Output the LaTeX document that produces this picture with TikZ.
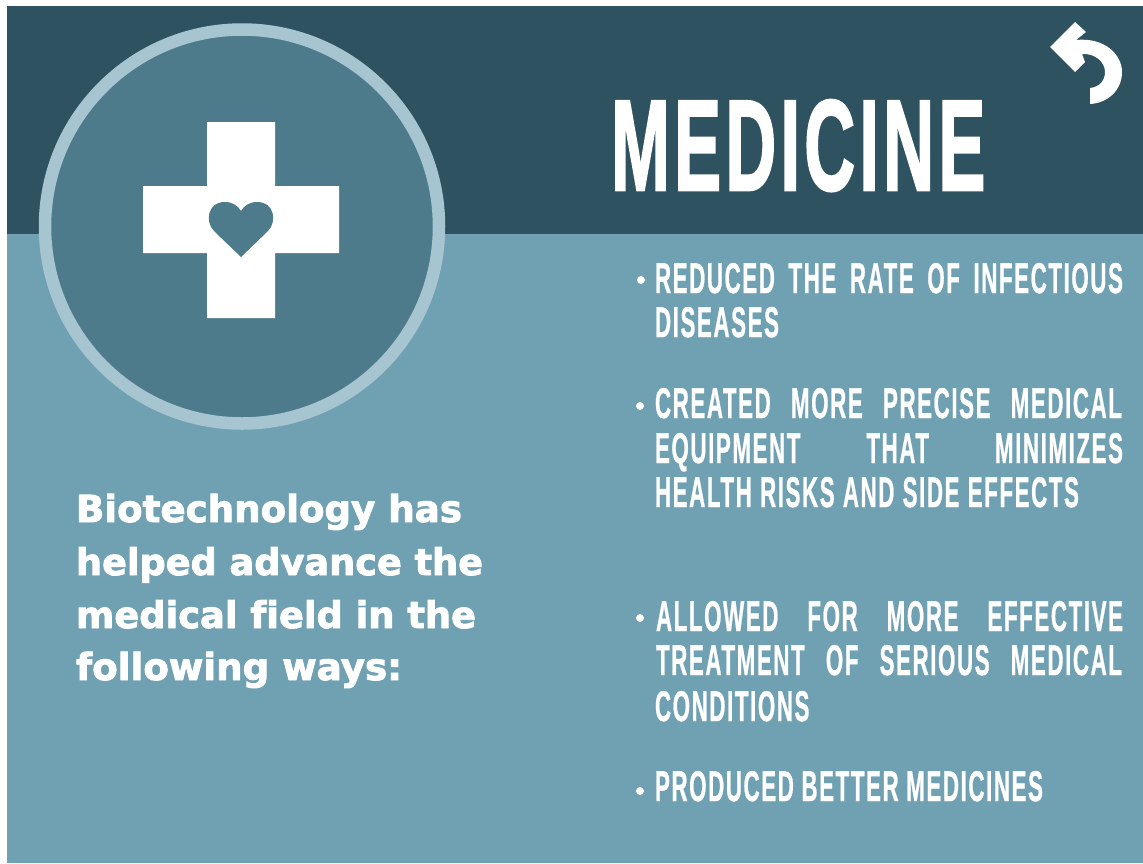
\documentclass[tikz,border=0pt]{standalone}
\usepackage{fontspec}
\usepackage{graphicx}
\setmainfont{Liberation Sans}
\newfontfamily\capsfont[BoldFeatures={FakeBold=1},LetterSpace=7]{Liberation Sans}
\newfontfamily\titlefont[BoldFeatures={FakeBold=2},LetterSpace=6]{Liberation Sans}
\newfontfamily\wideafont[BoldFeatures={FakeBold=2.4},Ligatures=CommonOff]{DejaVu Sans}
\definecolor{headerc}{HTML}{2F5260}
\definecolor{bodyc}{HTML}{70A1B2}
\definecolor{ringc}{HTML}{A6C5D0}
\definecolor{discc}{HTML}{4E7B8C}
\newcommand{\bodyline}[2]{\scalebox{.52}[1]{\hbox to \dimexpr #1pt*100/52\relax{\fontsize{43}{43}\capsfont\bfseries #2}}}
\newcommand{\introline}[2]{\resizebox{#1pt}{!}{\fontsize{30}{30}\wideafont\bfseries #2}}
\tikzset{
  bodytext/.style={text=white,inner sep=0pt,outer sep=0pt,anchor=base west},
  dotmark/.style={circle,fill=white,inner sep=0pt,minimum size=8pt},
}
\begin{document}
\begin{tikzpicture}[x=1pt,y=-1pt]
\useasboundingbox (0,0) rectangle (1143,863);
\fill[white] (0,0) rectangle (1143,863);
\fill[bodyc] (7,233) rectangle (1143,863);
\fill[headerc] (7,6) rectangle (1143,234);
\node[circle,draw=ringc,fill=discc,line width=12.5pt,minimum size=394pt,inner sep=0pt] (disc) at (242,226.5) {};
\fill[white] (207,122) -- (275,122) -- (275,186) -- (339,186) -- (339,253) -- (275,253) -- (275,318) -- (207,318) -- (207,253) -- (143,253) -- (143,186) -- (207,186) -- cycle;
\fill[discc] (241,257) -- (214,231) .. controls (205,222) and (207,202) .. (225,202) .. controls (233,202) and (238,206) .. (241,211) .. controls (244,206) and (249,202) .. (257,202) .. controls (275,202) and (277,222) .. (268,231) -- cycle;
\fill[white] (1050,47) -- (1075,22) -- (1086,32) -- (1076,40) .. controls (1105,37) and (1122,55) .. (1122,72) .. controls (1122,90) and (1108,103) .. (1090,104) -- (1090,88) .. controls (1100,87) and (1105,80) .. (1105,72) .. controls (1105,62) and (1095,53) .. (1082,54) -- (1085,62) -- (1075,72) -- cycle;
\node[text=white,inner sep=0pt,anchor=base west] (title) at (611,190) {\resizebox{374pt}{90pt}{\titlefont\bfseries MEDICINE}};
\node[bodytext] (b1a) at (655,293) {\bodyline{468}{REDUCED\hfill THE\hfill RATE\hfill OF\hfill INFECTIOUS}};
\node[bodytext] (b1b) at (655,337) {\bodyline{127}{DISEASES}};
\node[bodytext] (b2a) at (655,418) {\bodyline{467}{CREATED\hfill MORE\hfill PRECISE\hfill MEDICAL}};
\node[bodytext] (b2b) at (655,463) {\bodyline{468}{EQUIPMENT\hfill THAT\hfill MINIMIZES}};
\node[bodytext] (b2c) at (655,507) {\bodyline{424}{HEALTH\hfill RISKS\hfill AND\hfill SIDE\hfill EFFECTS}};
\node[bodytext] (b3a) at (656,631) {\bodyline{467}{ALLOWED\hfill FOR\hfill MORE\hfill EFFECTIVE}};
\node[bodytext] (b3b) at (656,675) {\bodyline{466}{TREATMENT\hfill OF\hfill SERIOUS\hfill MEDICAL}};
\node[bodytext] (b3c) at (655,721) {\bodyline{156}{CONDITIONS}};
\node[bodytext] (b4a) at (655,801) {\bodyline{388}{PRODUCED\hfill BETTER\hfill MEDICINES}};
\node[dotmark] (d1) at (641,280) {};
\node[dotmark] (d2) at (640,406) {};
\node[dotmark] (d3) at (640,618) {};
\node[dotmark] (d4) at (640,791) {};
\node[bodytext] (i1) at (76,522) {\introline{386}{Biotechnology has}};
\node[bodytext] (i2) at (76,575) {\introline{407}{helped advance the}};
\node[bodytext] (i3) at (76,628) {\introline{400}{medical field in the}};
\node[bodytext] (i4) at (76,680) {\introline{326}{following ways:}};
\end{tikzpicture}
\end{document}
